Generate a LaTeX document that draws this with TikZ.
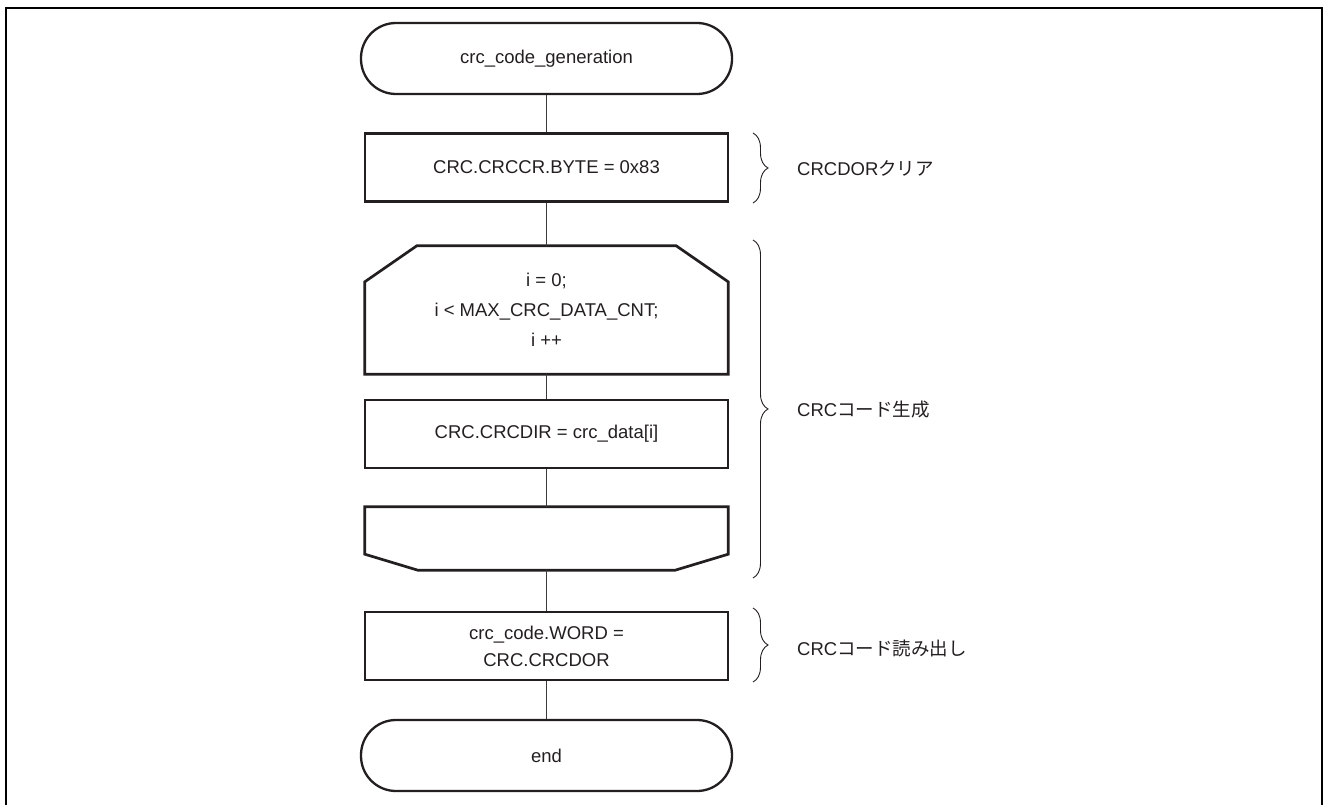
\documentclass[tikz,border=0pt]{standalone}
\usepackage{fontspec}
\setmainfont{Liberation Sans}
\newfontfamily\jp{Noto Sans CJK JP}
\usetikzlibrary{calc,decorations.pathreplacing}
\definecolor{ink}{HTML}{231F20}
\definecolor{wire}{HTML}{3A3A3A}

\begin{document}
\begin{tikzpicture}[x=1pt,y=-1pt,
  every node/.style={font=\fontsize{18.5}{30}\selectfont, inner sep=0pt, text=ink},
  terminal/.style={draw=ink, line width=2.3pt, rounded corners=35pt,
    minimum width=371pt, minimum height=71pt},
  procbox/.style={draw=ink, line width=2.7pt, minimum width=363pt,
    minimum height=68pt, align=center},
  loopbox/.style={minimum width=363pt, align=center},
  outline/.style={draw=ink, line width=2.7pt, line join=miter},
  link/.style={draw=wire, line width=1.1pt},
  bracket/.style={draw=ink, line width=0.9pt, decorate,
    decoration={brace, amplitude=15pt}},
  note/.style={anchor=west}]

  \useasboundingbox (0,0) rectangle (1325,805);
  \draw[line width=2.7pt, draw=black] (6,8) rectangle (1322,812);

  % flowchart blocks
  \node[terminal] (start) at (546.5,58.5) {crc\_code\_generation};
  \node[procbox] (clr) at (546.5,167.5) {CRC.CRCCR.BYTE = 0x83};
  \node[loopbox, minimum height=128pt] (lstart) at (546.5,310)
    {i = 0;\\ i < MAX\_CRC\_DATA\_CNT;\\ i ++};
  \node[procbox] (feed) at (546.5,434) {CRC.CRCDIR = crc\_data[i]};
  \node[loopbox, minimum height=63pt] (lend) at (546.5,538.5) {};
  \node[procbox, font=\fontsize{18.5}{27}\selectfont] (read) at (546.5,646)
    {crc\_code.WORD =\\ CRC.CRCDOR};
  \node[terminal] (stop) at (546.5,755.5) {end};

  % loop limit outlines
  \draw[outline] ($(lstart.north west)+(0,36)$) -- ($(lstart.north west)+(52,0)$)
    -- ($(lstart.north east)+(-52,0)$) -- ($(lstart.north east)+(0,36)$)
    -- (lstart.south east) -- (lstart.south west) -- cycle;
  \draw[outline] (lend.north west) -- (lend.north east)
    -- ($(lend.south east)+(0,-16)$) -- ($(lend.south east)+(-53,0)$)
    -- ($(lend.south west)+(53,0)$) -- ($(lend.south west)+(0,-16)$) -- cycle;

  % connectors
  \draw[link] (start) -- (clr);
  \draw[link] (clr) -- (lstart.north);
  \draw[link] (lstart.south) -- (feed);
  \draw[link] (feed) -- (lend.north);
  \draw[link] (lend.south) -- (read);
  \draw[link] (read) -- (stop);

  % braces and notes
  \coordinate (b1t) at (753,133);  \coordinate (b1b) at (753,203);
  \coordinate (b2t) at (753,240);  \coordinate (b2b) at (753,578);
  \coordinate (b3t) at (753,608);  \coordinate (b3b) at (753,682);
  \draw[bracket] (b1t) -- (b1b);
  \draw[bracket] (b2t) -- (b2b);
  \draw[bracket] (b3t) -- (b3b);
  \node[note] (n1) at (797,168) {CRCDOR{\jp クリア}};
  \node[note] (n2) at (797,410) {CRC{\jp コード生成}};
  \node[note] (n3) at (797,648) {CRC{\jp コード読み出し}};
\end{tikzpicture}
\end{document}
